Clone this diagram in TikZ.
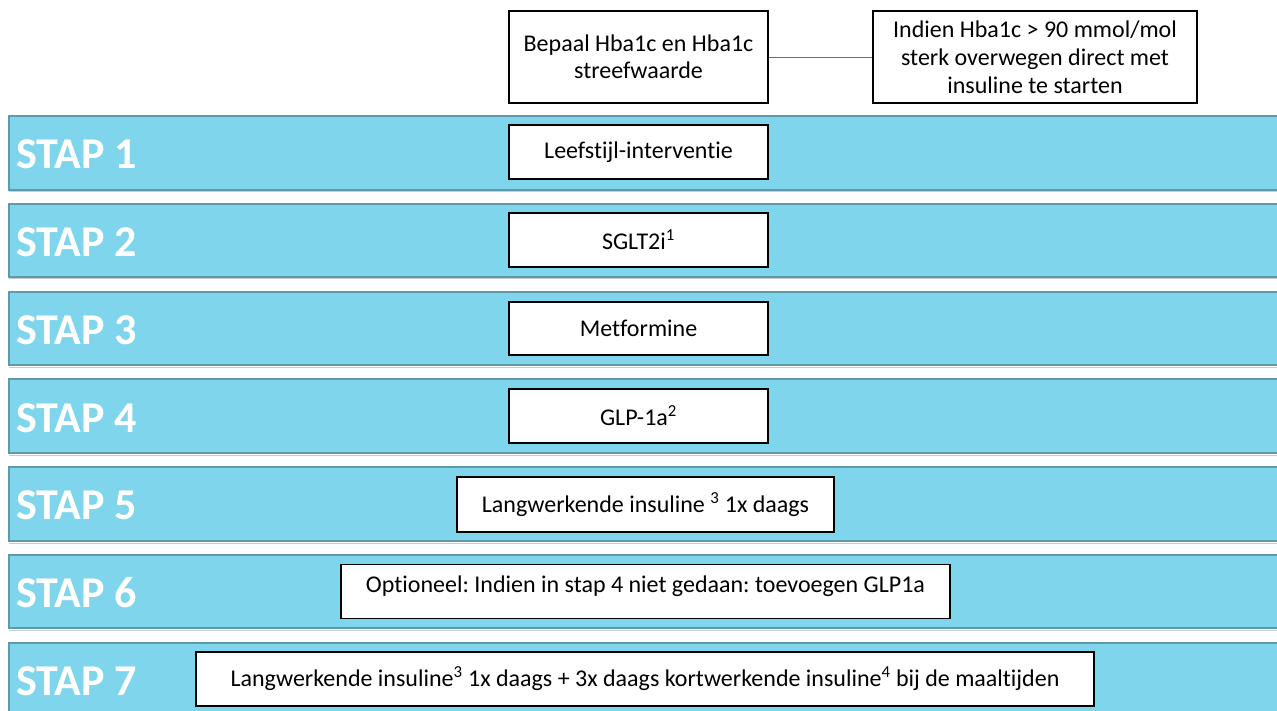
\documentclass[tikz,border=0pt]{standalone}
\usepackage{fontspec}
\setmainfont{Carlito}[Ligatures={NoCommon}]
\usepackage{tikz}
\usetikzlibrary{positioning}
\usepackage{xcolor}
\definecolor{stapfill}{RGB}{127,214,236}
\definecolor{stapline}{RGB}{96,154,170}
\definecolor{stapshadow}{RGB}{200,204,206}
\frenchspacing

\begin{document}
\begin{tikzpicture}[x=1pt,y=-1pt,
  band/.style={draw=stapline,line width=1.8pt,fill=stapfill},
  staplabel/.style={anchor=west,inner sep=0pt,text=white,font=\fontsize{44}{44}\selectfont\bfseries},
  stepbox/.style={draw=black,line width=1.5pt,fill=white,inner sep=0pt,align=center,font=\fontsize{24}{27}\selectfont},
  conn/.style={draw=stapline!80!black,line width=0.8pt}]
  \useasboundingbox (0,0) rectangle (1277,711);
  \clip (0,0) rectangle (1277,711);

  % top boxes
  \node[stepbox,minimum width=259pt,minimum height=92pt] (hba) at (638.5,57) {Bepaal Hba1c en Hba1c\\streefwaarde};
  \node[stepbox,minimum width=324pt,minimum height=92pt,font=\fontsize{24}{28}\selectfont] (note) at (1035,57) {Indien Hba1c > 90 mmol/mol\\sterk overwegen direct met\\insuline te starten};
  \draw[conn] (hba.east) -- (note.west);

  % bands
  \draw[stapshadow,line width=1pt] (9,192) -- (1290,192);
  \draw[band] (9,116) rectangle (1290,190);
  \draw[stapshadow,line width=1pt] (9,279) -- (1290,279);
  \draw[band] (9,204) rectangle (1290,277);
  \draw[stapshadow,line width=1pt] (9,367) -- (1290,367);
  \draw[band] (9,292) rectangle (1290,365);
  \draw[stapshadow,line width=1pt] (9,455) -- (1290,455);
  \draw[band] (9,379) rectangle (1290,453);
  \draw[stapshadow,line width=1pt] (9,543) -- (1290,543);
  \draw[band] (9,467) rectangle (1290,541);
  \draw[stapshadow,line width=1pt] (9,630) -- (1290,630);
  \draw[band] (9,555) rectangle (1290,628);
  \draw[band] (9,643) rectangle (1290,730);

  \node[staplabel] (stap1) at (16,154) {STAP 1};
  \node[staplabel] (stap2) at (16,242) {STAP 2};
  \node[staplabel] (stap3) at (16,330) {STAP 3};
  \node[staplabel] (stap4) at (16,418) {STAP 4};
  \node[staplabel] (stap5) at (16,505) {STAP 5};
  \node[staplabel] (stap6) at (16,593) {STAP 6};
  \node[staplabel] (stap7) at (16,681) {STAP 7};

  % steps
  \node[stepbox,minimum width=259pt,minimum height=54pt] (leefstijl) at (638.5,152) {Leefstijl-interventie};
  \node[stepbox,minimum width=259pt,minimum height=54pt] (sglt) at (638.5,240) {SGLT2i\textsuperscript{1}};
  \node[stepbox,minimum width=259pt,minimum height=53pt] (metf) at (638.5,328.5) {Metformine};
  \node[stepbox,minimum width=259pt,minimum height=54pt] (glp) at (638.5,416) {GLP-1a\textsuperscript{2}};
  \node[stepbox,minimum width=377pt,minimum height=55pt] (lang) at (645.5,504.5) {Langwerkende insuline \textsuperscript{3} 1x daags};
  \node[stepbox,minimum width=609pt,minimum height=54pt,text depth=14pt] (optie) at (645.5,591.5) {Optioneel: Indien in stap 4 niet gedaan: toevoegen GLP1a};
  \node[stepbox,minimum width=898pt,minimum height=54pt] (kort) at (645,679) {Langwerkende insuline\textsuperscript{3} 1x daags + 3x daags kortwerkende insuline\textsuperscript{4} bij de maaltijden};

\end{tikzpicture}
\end{document}
